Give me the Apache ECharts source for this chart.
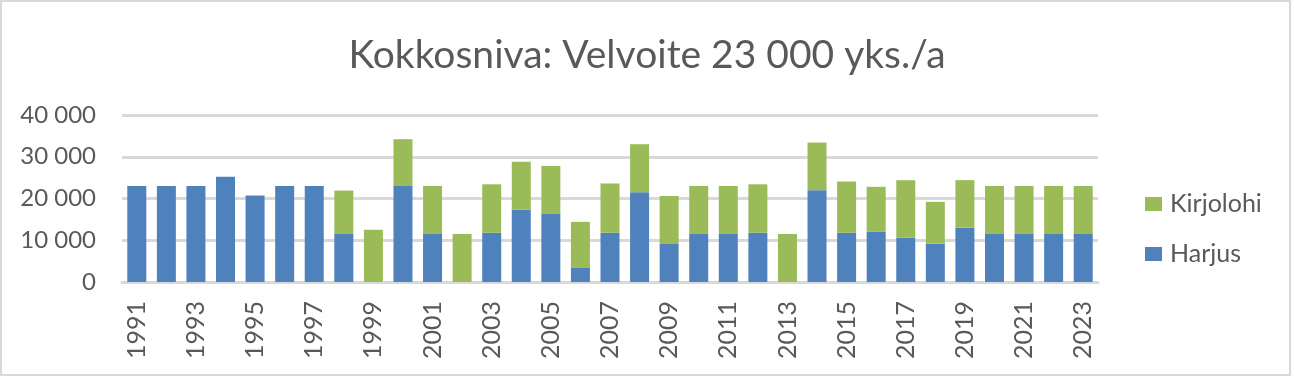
<!DOCTYPE html>
<html>
<head>
<meta charset="utf-8">
<script src="https://cdn.jsdelivr.net/npm/echarts@6/dist/echarts.min.js"></script>
<style>
html,body{margin:0;padding:0;background:#fff;}
#chart{width:1294px;height:377px;}
</style>
</head>
<body>
<div id="chart"></div>
<script>
const titleText = 'Kokkosniva: Velvoite 23 000 yks./a';
const years = ['1991','1992','1993','1994','1995','1996','1997','1998','1999','2000','2001','2002','2003','2004','2005','2006','2007','2008','2009','2010','2011','2012','2013','2014','2015','2016','2017','2018','2019','2020','2021','2022','2023'];
const harjus = [23000,23000,23000,25200,20700,23000,23000,11500,0,23000,11500,0,11800,17300,16300,3500,11800,21500,9100,11500,11500,11800,0,22000,11800,12000,10600,9200,13000,11500,11500,11500,11500];
const kirjolohi = [0,0,0,0,0,0,0,10400,12500,11200,11500,11500,11600,11500,11500,10900,11800,11500,11500,11500,11500,11600,11500,11400,12300,10800,13800,10000,11400,11500,11500,11500,11500];
const yTicks = [0,10000,20000,30000,40000];

const textColor = '#595959';
const font = 'Lato, "Liberation Sans", sans-serif';
const chart = echarts.init(document.getElementById('chart'), null, {renderer:'canvas'});
chart.setOption({
  animation:false,
  backgroundColor:'#ffffff',
  title:{
    text:titleText,
    left:'center',
    top:31,
    textStyle:{color:textColor,fontFamily:font,fontWeight:'normal',fontSize:39}
  },
  graphic:[{
    type:'rect',
    shape:{x:1,y:1,width:1289,height:374},
    style:{fill:'none',stroke:'#d9d9d9',lineWidth:2},
    silent:true
  }],
  legend:{
    orient:'vertical',
    left:1140,
    top:186,
    itemWidth:17,
    itemHeight:14,
    itemGap:24,
    icon:'rect',
    data:['Kirjolohi','Harjus'],
    textStyle:{color:textColor,fontFamily:font,fontSize:25,lineHeight:26,padding:[0,0,0,3]}
  },
  grid:{left:122,right:196,top:115,bottom:95,containLabel:false},
  xAxis:{
    type:'category',
    data:years,
    axisLine:{show:true,lineStyle:{color:'#d9d9d9',width:3}},
    axisTick:{show:false},
    axisLabel:{interval:1,rotate:90,margin:19,color:textColor,fontFamily:font,fontSize:25}
  },
  yAxis:{
    type:'value',
    min:yTicks[0],
    max:yTicks[yTicks.length-1],
    interval:yTicks[1]-yTicks[0],
    axisLine:{show:false},
    axisTick:{show:false},
    splitLine:{lineStyle:{color:'#d9d9d9',width:3}},
    axisLabel:{
      margin:26,
      color:textColor,fontFamily:font,fontSize:24,
      formatter:function(v){return String(v).replace(/\B(?=(\d{3})+(?!\d))/g,' ');}
    }
  },
  series:[
    {name:'Harjus',type:'bar',stack:'total',data:harjus,barWidth:19,itemStyle:{color:'#4F81BD'}},
    {name:'Kirjolohi',type:'bar',stack:'total',data:kirjolohi,barWidth:19,itemStyle:{color:'#9BBB59'}}
  ]
});
</script>
</body>
</html>
